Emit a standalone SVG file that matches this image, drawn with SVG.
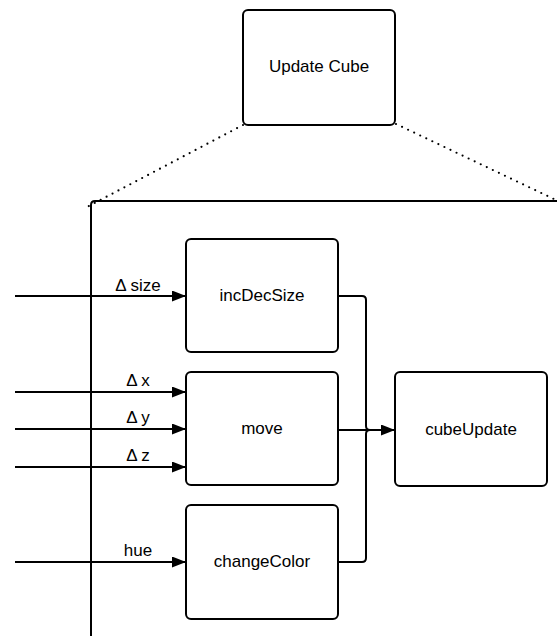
<svg xmlns="http://www.w3.org/2000/svg" width="557" height="636" viewBox="0 0 557 636">
<style>
.box{fill:#fff;stroke:#000;stroke-width:2}
.ln{fill:none;stroke:#000;stroke-width:2}
.dot{fill:none;stroke:#000;stroke-width:2.2;stroke-linecap:round;stroke-dasharray:0 6.7}
text{font-family:"Liberation Sans",Arial,sans-serif;font-size:17px;fill:#000;text-anchor:middle}
</style>
<defs>
<marker id="arr" viewBox="0 0 14 11" refX="14" refY="5.5" markerWidth="14" markerHeight="11" markerUnits="userSpaceOnUse" orient="auto">
<path d="M0,0 L14,5.5 L0,11 Z" fill="#000"/>
</marker>
</defs>
<g id="connectors">
<path class="dot" d="M243,125 L87,207"/>
<path class="dot" d="M396,124 L556,200"/>
<path class="ln" d="M91,636 V205 Q91,201 95,201 H557"/>
<path class="ln" d="M15,296 H186" marker-end="url(#arr)"/>
<path class="ln" d="M15,392 H186" marker-end="url(#arr)"/>
<path class="ln" d="M15,429 H186" marker-end="url(#arr)"/>
<path class="ln" d="M15,467 H186" marker-end="url(#arr)"/>
<path class="ln" d="M15,562 H186" marker-end="url(#arr)"/>
<path class="ln" d="M338,296 H362 Q366,296 366,300 V426 Q366,430 370,430 H395"/>
<path class="ln" d="M338,562 H362 Q366,562 366,558 V434 Q366,430 370,430 H395"/>
<path class="ln" d="M338,430 H395" marker-end="url(#arr)"/>
<text x="138" y="291">Δ size</text>
<text x="138" y="386">Δ x</text>
<text x="138" y="423">Δ y</text>
<text x="138" y="461">Δ z</text>
<text x="138" y="556">hue</text>
</g>
<g id="updateCube">
<rect class="box" x="243" y="10" width="152" height="115" rx="5"/>
<text x="319" y="72">Update Cube</text>
</g>
<g id="incDecSize">
<rect class="box" x="186" y="239" width="152" height="113" rx="5"/>
<text x="262" y="301">incDecSize</text>
</g>
<g id="move">
<rect class="box" x="186" y="372" width="152" height="113" rx="5"/>
<text x="262" y="434">move</text>
</g>
<g id="changeColor">
<rect class="box" x="186" y="505" width="152" height="114" rx="5"/>
<text x="262" y="567">changeColor</text>
</g>
<g id="cubeUpdate">
<rect class="box" x="395" y="372" width="152" height="114" rx="5"/>
<text x="471" y="435">cubeUpdate</text>
</g>
</svg>
